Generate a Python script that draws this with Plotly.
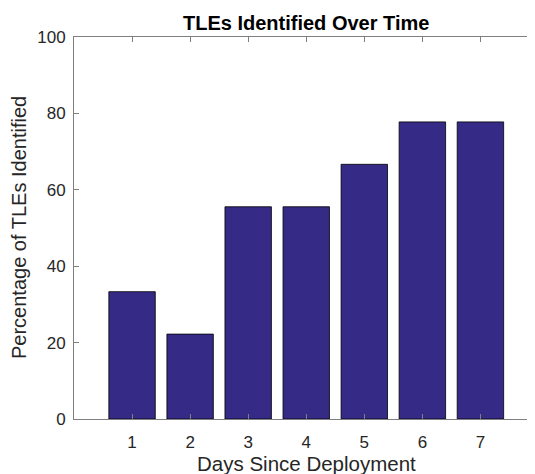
import plotly.graph_objects as go

days = [1, 2, 3, 4, 5, 6, 7]
pct_identified = [33.33, 22.22, 55.56, 55.56, 66.67, 77.78, 77.78]
x_ticks = [1, 2, 3, 4, 5, 6, 7]
y_ticks = [0, 20, 40, 60, 80, 100]

FONT = "Liberation Sans, Arial, Helvetica, sans-serif"
TXT = "#262626"
AX = "#7f7f7f"

fig = go.Figure(
    go.Bar(
        x=days,
        y=pct_identified,
        width=0.8,
        marker=dict(color="rgb(53,42,134)", line=dict(color="#000000", width=0.8)),
    )
)

XMAX = 7.94
fig.update_layout(
    width=527,
    height=466,
    margin=dict(l=66, r=0, t=29, b=55),
    paper_bgcolor="white",
    plot_bgcolor="white",
    showlegend=False,
    font=dict(family=FONT, size=17, color=TXT),
    xaxis=dict(
        range=[0, XMAX],
        tickvals=x_ticks,
        ticktext=[str(v) for v in x_ticks],
        ticks="inside",
        ticklen=5,
        tickcolor=AX,
        showline=True,
        linecolor=AX,
        linewidth=1,
        mirror="ticks",
        showgrid=False,
        zeroline=False,
        tickfont=dict(size=17, color=TXT),
        ticklabelstandoff=8,
    ),
    yaxis=dict(
        range=[0, 100],
        tickvals=y_ticks,
        ticks="inside",
        ticklen=5,
        tickcolor=AX,
        showline=True,
        linecolor=AX,
        linewidth=1,
        showgrid=False,
        zeroline=False,
        tickfont=dict(size=17, color=TXT),
        ticklabelstandoff=4,
    ),
    annotations=[
        dict(text="<b>TLEs Identified Over Time</b>", x=4 / XMAX, y=1, xref="paper", yref="paper",
             xanchor="center", yanchor="middle", yshift=14, showarrow=False,
             font=dict(family=FONT, size=20, color="#000000")),
        dict(text="Days Since Deployment", x=4 / XMAX, y=0, xref="paper", yref="paper",
             xanchor="center", yanchor="middle", yshift=-44.5, showarrow=False,
             font=dict(family=FONT, size=20.5, color=TXT)),
        dict(text="Percentage of TLEs Identified", x=0, y=0.5, xref="paper", yref="paper",
             xanchor="center", yanchor="middle", xshift=-55, textangle=-90, showarrow=False,
             font=dict(family=FONT, size=20, color=TXT)),
    ],
)

fig.write_html("out.html")
